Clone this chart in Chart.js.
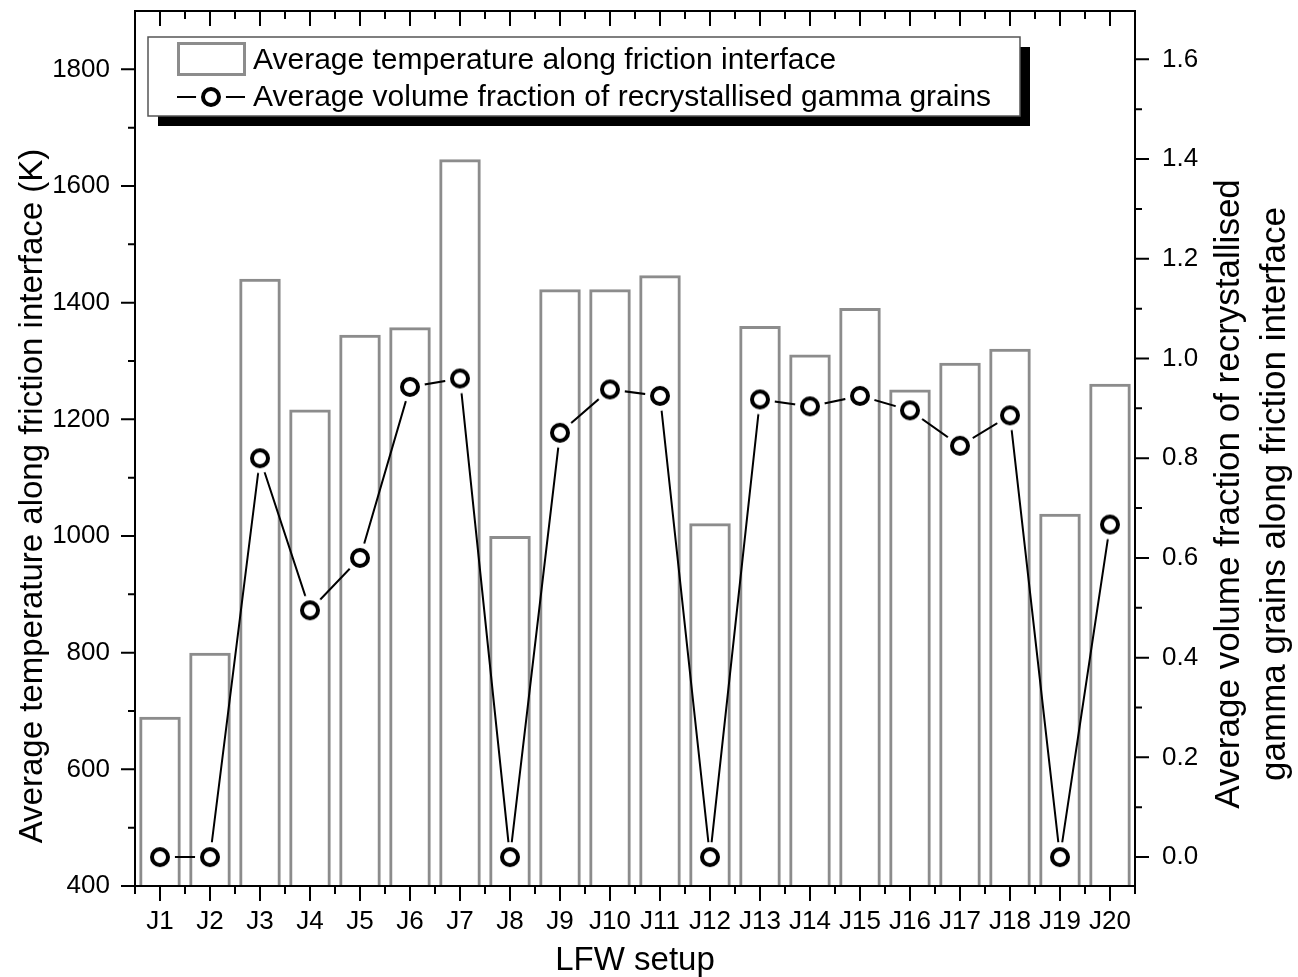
<!DOCTYPE html>
<html>
<head>
<meta charset="utf-8">
<title>LFW setup</title>
<script src="https://cdn.jsdelivr.net/npm/chart.js@4.4.1/dist/chart.umd.min.js"></script>
<style>
  html, body { margin: 0; padding: 0; background: #fff; }
  #wrap { width: 1298px; height: 977px; }
</style>
</head>
<body>
<div id="wrap"><canvas id="chart" width="1298" height="977"></canvas></div>
<script>
const setups = ['J1', 'J2', 'J3', 'J4', 'J5', 'J6', 'J7', 'J8', 'J9', 'J10',
                'J11', 'J12', 'J13', 'J14', 'J15', 'J16', 'J17', 'J18', 'J19', 'J20'];
const avgTemperature = [690, 800, 1441, 1217, 1345, 1358, 1646, 1000, 1423, 1423,
                        1447, 1022, 1360, 1311, 1391, 1251, 1297, 1321, 1038, 1261];
const recrystFraction = [0, 0, 0.80, 0.495, 0.60, 0.943, 0.96, 0, 0.851, 0.938,
                         0.925, 0, 0.918, 0.904, 0.925, 0.896, 0.825, 0.886, 0, 0.667];
const tempTicks = [400, 600, 800, 1000, 1200, 1400, 1600, 1800];
const fractionTicks = [0, 0.2, 0.4, 0.6, 0.8, 1.0, 1.2, 1.4, 1.6];

const tempLabel = 'Average temperature along friction interface';
const fractionLabel = 'Average volume fraction of recrystallised gamma grains';
const leftTitle = 'Average temperature along friction interface (K)';
const rightTitle = ['Average volume fraction of recrystallised', 'gamma grains along friction interface'];
const bottomTitle = 'LFW setup';

const FONT = "'Liberation Sans', Arial, sans-serif";
const barGrey = '#8c8c8c';

// open circle with a white halo, so the joining line stops short of the symbol
function makeSymbol() {
    let c = document.createElement('canvas');
    c.width = 32;
    c.height = 32;
    let g = c.getContext('2d');
    g.fillStyle = '#fff';
    g.beginPath();
    g.arc(16, 16, 15, 0, Math.PI * 2);
    g.fill();
    g.strokeStyle = '#000';
    g.lineWidth = 4;
    g.beginPath();
    g.arc(16, 16, 8, 0, Math.PI * 2);
    g.stroke();
    return c;
}
const symbol = makeSymbol();

// frame, ticks (major + minor, top axis inward), titles and the boxed legend
const decorations = {
    id: 'decorations',
    afterDatasetsDraw(chart) {
        const ctx = chart.ctx;
        const a = chart.chartArea;
        const xs = chart.scales.x, yl = chart.scales.y, yr = chart.scales.y1;
        ctx.save();
        ctx.strokeStyle = '#000';
        ctx.lineWidth = 2;
        ctx.beginPath();

        for (let i = 0; i < setups.length; i++) {
            let x = xs.getPixelForValue(i);
            ctx.moveTo(x, a.bottom); ctx.lineTo(x, a.bottom + 15);
            ctx.moveTo(x, a.top); ctx.lineTo(x, a.top + 15);
        }
        for (let i = 0; i <= setups.length; i++) {
            let x = xs.getPixelForValue(i - 0.5);
            ctx.moveTo(x, a.bottom); ctx.lineTo(x, a.bottom + 8);
            ctx.moveTo(x, a.top); ctx.lineTo(x, a.top + 8);
        }
        tempTicks.forEach(v => {
            let y = yl.getPixelForValue(v);
            ctx.moveTo(a.left - 14, y); ctx.lineTo(a.left, y);
            y = yl.getPixelForValue(v + 100);
            if (v + 100 < yl.max) { ctx.moveTo(a.left - 7, y); ctx.lineTo(a.left, y); }
        });
        fractionTicks.forEach(v => {
            let y = yr.getPixelForValue(v);
            ctx.moveTo(a.right, y); ctx.lineTo(a.right + 14, y);
            if (v + 0.1 < yr.max) {
                y = yr.getPixelForValue(v + 0.1);
                ctx.moveTo(a.right, y); ctx.lineTo(a.right + 7, y);
            }
        });
        ctx.stroke();
        ctx.strokeRect(a.left, a.top, a.right - a.left, a.bottom - a.top);

        // axis titles
        ctx.fillStyle = '#000';
        ctx.font = '33px ' + FONT;
        ctx.textAlign = 'center';
        ctx.textBaseline = 'alphabetic';
        ctx.fillText(bottomTitle, (a.left + a.right) / 2, 970);

        ctx.textBaseline = 'middle';
        ctx.save();
        ctx.translate(33, 496);
        ctx.rotate(-Math.PI / 2);
        ctx.fillText(leftTitle, 0, 0);
        ctx.restore();

        ctx.font = '35px ' + FONT;
        ctx.save();
        ctx.translate(1229, 494);
        ctx.rotate(-Math.PI / 2);
        ctx.fillText(rightTitle[0], 0, 0);
        ctx.fillText(rightTitle[1], 0, 46);
        ctx.restore();

        // legend with drop shadow
        ctx.fillStyle = '#000';
        ctx.fillRect(158, 47, 872, 79);
        ctx.fillStyle = '#fff';
        ctx.fillRect(148, 37, 872, 79);
        ctx.strokeStyle = '#555';
        ctx.lineWidth = 1.5;
        ctx.strokeRect(148, 37, 872, 79);

        ctx.strokeStyle = barGrey;
        ctx.lineWidth = 3;
        ctx.strokeRect(178.5, 43.5, 66, 31);

        ctx.strokeStyle = '#000';
        ctx.lineWidth = 2;
        ctx.beginPath();
        ctx.moveTo(177, 97); ctx.lineTo(245, 97);
        ctx.stroke();
        ctx.drawImage(symbol, 211 - 16, 97 - 16);

        ctx.fillStyle = '#000';
        ctx.font = '30px ' + FONT;
        ctx.textAlign = 'left';
        ctx.textBaseline = 'alphabetic';
        ctx.fillText(tempLabel, 253, 69);
        ctx.fillText(fractionLabel, 253, 106);
        ctx.restore();
    }
};

const tickFont = { family: FONT, size: 26 };

new Chart(document.getElementById('chart'), {
    data: {
        labels: setups,
        datasets: [
            {
                type: 'line',
                label: fractionLabel,
                data: recrystFraction,
                yAxisID: 'y1',
                borderColor: '#000',
                borderWidth: 2,
                pointStyle: symbol,
                tension: 0,
                fill: false,
                order: 0
            },
            {
                type: 'bar',
                label: tempLabel,
                data: avgTemperature,
                yAxisID: 'y',
                backgroundColor: 'rgba(0,0,0,0)',
                borderColor: barGrey,
                borderWidth: 3,
                borderSkipped: 'start',
                barPercentage: 0.83,
                categoryPercentage: 1,
                order: 1
            }
        ]
    },
    options: {
        responsive: false,
        animation: false,
        layout: { padding: { top: 11, left: 0, right: 0, bottom: 0 } },
        plugins: { legend: { display: false }, tooltip: { enabled: false } },
        scales: {
            x: {
                type: 'category',
                offset: true,
                grid: { display: false, drawTicks: false },
                border: { display: false },
                ticks: { color: '#000', font: tickFont, padding: 20, maxRotation: 0, autoSkip: false },
                afterFit(s) { s.height = 91; s.paddingLeft = 0; s.paddingRight = 0; }
            },
            y: {
                type: 'linear',
                position: 'left',
                min: 400,
                max: 1900,
                grid: { display: false, drawTicks: false },
                border: { display: false },
                afterBuildTicks(s) { s.ticks = tempTicks.map(v => ({ value: v })); },
                ticks: { color: '#000', font: tickFont, padding: 25, callback: v => String(v) },
                afterFit(s) { s.width = 135; s.paddingTop = 0; s.paddingBottom = 0; }
            },
            y1: {
                type: 'linear',
                position: 'right',
                min: -0.058,
                max: 1.697,
                grid: { display: false, drawTicks: false },
                border: { display: false },
                afterBuildTicks(s) { s.ticks = fractionTicks.map(v => ({ value: v })); },
                ticks: { color: '#000', font: tickFont, padding: 27, callback: v => v.toFixed(1) },
                afterFit(s) { s.width = 163; s.paddingTop = 0; s.paddingBottom = 0; }
            }
        }
    },
    plugins: [decorations]
});
</script>
</body>
</html>
